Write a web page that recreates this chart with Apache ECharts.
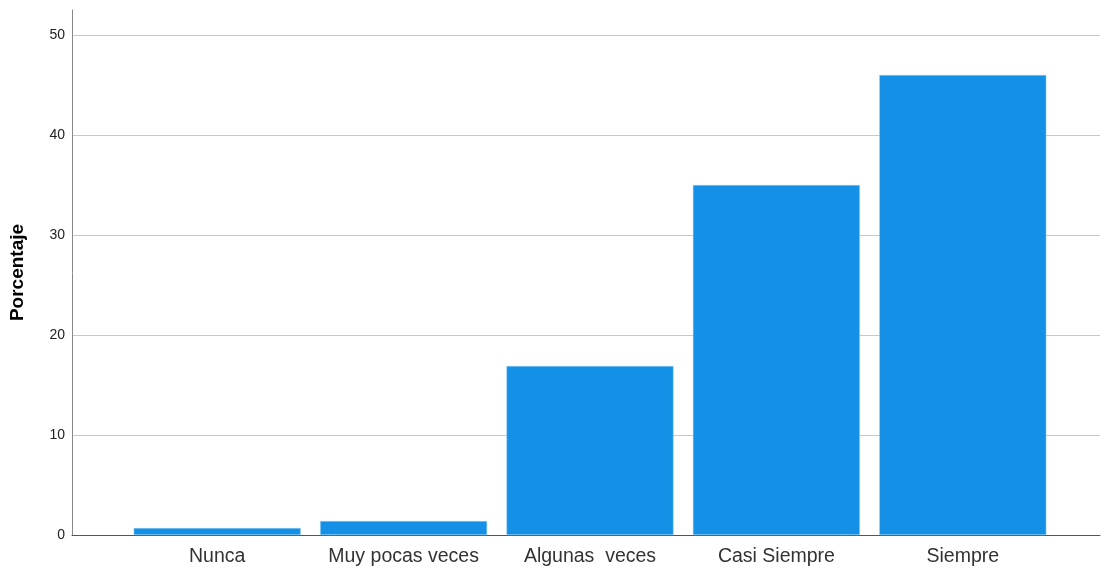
<!DOCTYPE html>
<html>
<head>
<meta charset="utf-8">
<script src="https://cdn.jsdelivr.net/npm/echarts@6/dist/echarts.min.js"></script>
<style>html,body{margin:0;padding:0;background:#fff}#c{width:1102px;height:569px}</style>
</head>
<body>
<div id="c"></div>
<script>
const categories = ['Nunca', 'Muy pocas veces', 'Algunas  veces', 'Casi Siempre', 'Siempre'];
const values = [0.7, 1.4, 16.9, 35.0, 46.0];
const yTicks = [0, 10, 20, 30, 40, 50];
const yTitle = 'Porcentaje';

const chart = echarts.init(document.getElementById('c'), null, {renderer: 'canvas'});
const font = 'Arial, "Liberation Sans", sans-serif';
chart.setOption({
  animation: false,
  backgroundColor: '#fff',
  grid: [
    {left: 72, right: 2, top: 10, bottom: 34},
    {left: 124, right: 46, top: 35, bottom: 34},
    {left: 72, right: 2, top: 35, bottom: 34}
  ],
  xAxis: [
    {gridIndex: 0, type: 'category', data: [''], boundaryGap: true,
      axisLine: {show: true, lineStyle: {color: '#555', width: 1}},
      axisTick: {show: false}, axisLabel: {show: false}, splitLine: {show: false}},
    {gridIndex: 1, type: 'category', data: categories,
      axisLine: {show: false}, axisTick: {show: false},
      axisLabel: {show: true, color: '#333', fontSize: 19.5, fontFamily: font, margin: 12, interval: 0}},
    {gridIndex: 2, type: 'category', data: [''], show: false}
  ],
  yAxis: [
    {gridIndex: 0, type: 'value', min: 0, max: 52.5,
      axisLine: {show: true, lineStyle: {color: '#888', width: 1}},
      axisTick: {show: false}, axisLabel: {show: false}, splitLine: {show: false},
      name: yTitle, nameLocation: 'middle', nameGap: 45, nameRotate: 90,
      nameTextStyle: {color: '#000', fontSize: 19, fontWeight: 'bold', fontFamily: font}},
    {gridIndex: 1, type: 'value', min: 0, max: 50, show: false, splitLine: {show: false}},
    {gridIndex: 2, type: 'value', min: 0, max: 50, interval: 10,
      axisLine: {show: false}, axisTick: {show: false},
      axisLabel: {color: '#222', fontSize: 14, fontFamily: font, margin: 7,
        formatter: v => yTicks.includes(v) ? String(v) : ''},
      splitLine: {show: true, lineStyle: {color: '#c8c8c8', width: 1}}}
  ],
  series: [{
    type: 'bar', xAxisIndex: 1, yAxisIndex: 1, data: values,
    barWidth: 167, z: 3,
    itemStyle: {color: '#1490e6', borderColor: '#9cd0f5', borderWidth: 0.5}
  }]
});
</script>
</body>
</html>
